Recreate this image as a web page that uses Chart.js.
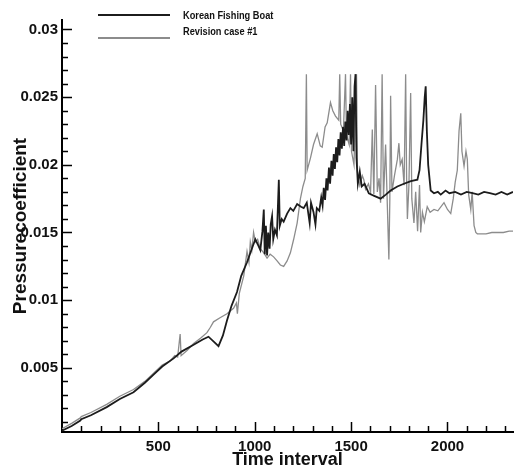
<!DOCTYPE html>
<html>
<head>
<meta charset="utf-8">
<script src="https://cdn.jsdelivr.net/npm/chart.js@4.4.1/dist/chart.umd.min.js"></script>
<style>
  html, body { margin: 0; padding: 0; background: #ffffff; }
  #wrap { width: 517px; height: 471px; position: relative; }
</style>
</head>
<body>
<div id="wrap"><canvas id="c"></canvas></div>
<script>
// ---- data ----
const seriesNames = ["Korean Fishing Boat", "Revision case #1"];

const kfbT = [0,50,95,100,150,232,300,371,430,475,520,579,620,683,730,760,790,812,835,856,880,908,930,960,985,1003,1020,1029,1040,1047,1052,1058,1064,1070,1077,1083,1090,1096,1105,1115,1125,1130,1140,1150,1168,1185,1200,1220,1240,1254,1270,1285,1292,1305,1315,1322,1335,1345,1352,1358,1365,1372,1378,1385,1391,1398,1404,1410,1416,1422,1428,1434,1440,1446,1452,1458,1464,1470,1476,1482,1488,1494,1500,1506,1512,1518,1523,1528,1535,1545,1555,1570,1592,1620,1653,1680,1705,1740,1774,1810,1844,1855,1865,1875,1882,1887,1893,1900,1913,1930,1950,1965,1990,2010,2040,2070,2100,2130,2160,2190,2220,2250,2280,2310,2340];
const kfbV = [0.00035,0.0007,0.0011,0.0012,0.0015,0.0021,0.0027,0.0032,0.0039,0.0045,0.0051,0.0057,0.0062,0.0067,0.0071,0.0073,0.0069,0.0066,0.0074,0.0085,0.0096,0.0106,0.0118,0.0128,0.0138,0.0145,0.0140,0.0137,0.0151,0.0167,0.0134,0.0155,0.0133,0.0150,0.0138,0.0156,0.0162,0.0145,0.0152,0.0148,0.0189,0.0155,0.0160,0.0158,0.0164,0.0168,0.0166,0.0171,0.0169,0.0168,0.0172,0.0157,0.0172,0.0165,0.0156,0.0168,0.0166,0.0176,0.0170,0.0183,0.0174,0.0190,0.0181,0.0198,0.0186,0.0203,0.0192,0.0208,0.0197,0.0213,0.0202,0.0219,0.0207,0.0224,0.0212,0.0228,0.0214,0.0232,0.0218,0.0240,0.0222,0.0245,0.0215,0.0250,0.0210,0.0258,0.0267,0.0205,0.0186,0.0195,0.0184,0.0186,0.0179,0.0177,0.0175,0.0178,0.0181,0.0184,0.0186,0.0188,0.0189,0.0196,0.0215,0.0233,0.0250,0.0258,0.0225,0.0200,0.0181,0.0179,0.0180,0.0178,0.0181,0.0179,0.0180,0.0178,0.0180,0.0179,0.0178,0.0180,0.0179,0.0178,0.0180,0.0178,0.0180];

const revT = [0,50,95,100,150,232,300,371,430,475,520,560,585,600,613,618,650,683,720,752,770,786,820,856,890,905,910,920,943,960,970,977,985,994,1003,1015,1029,1047,1064,1080,1098,1116,1133,1150,1168,1185,1202,1220,1237,1250,1262,1268,1272,1289,1305,1324,1340,1350,1365,1376,1393,1405,1419,1436,1441,1446,1460,1471,1476,1490,1497,1502,1515,1528,1533,1545,1558,1566,1575,1590,1601,1610,1618,1627,1636,1645,1653,1661,1668,1679,1688,1696,1701,1705,1712,1725,1740,1748,1755,1765,1775,1783,1788,1792,1800,1809,1815,1826,1835,1845,1855,1861,1870,1880,1895,1910,1930,1950,1982,2000,2017,2030,2040,2051,2060,2069,2075,2086,2096,2103,2110,2121,2128,2138,2147,2155,2173,2200,2230,2259,2290,2320,2340];
const revV = [0.0005,0.0009,0.0013,0.0014,0.0017,0.0023,0.0029,0.0034,0.0040,0.0046,0.0052,0.0055,0.0059,0.0058,0.0075,0.0059,0.0063,0.0068,0.0072,0.0076,0.0080,0.0084,0.0087,0.0090,0.0094,0.0098,0.0090,0.0105,0.0118,0.0136,0.0128,0.0143,0.0137,0.0150,0.0143,0.0145,0.0138,0.0135,0.0131,0.0134,0.0132,0.0129,0.0126,0.0125,0.0129,0.0135,0.0145,0.0157,0.0175,0.0184,0.0190,0.0267,0.0196,0.0205,0.0215,0.0223,0.0214,0.0213,0.0228,0.0231,0.0246,0.0240,0.0236,0.0233,0.0267,0.0230,0.0225,0.0267,0.0222,0.0215,0.0267,0.0210,0.0200,0.0267,0.0195,0.0185,0.0192,0.0189,0.0182,0.0186,0.0180,0.0226,0.0178,0.0259,0.0180,0.0190,0.0172,0.0267,0.0175,0.0215,0.0170,0.0130,0.0175,0.0251,0.0180,0.0192,0.0204,0.0216,0.0200,0.0204,0.0185,0.0267,0.0190,0.0160,0.0185,0.0253,0.0175,0.0157,0.0180,0.0151,0.0185,0.0150,0.0165,0.0158,0.0169,0.0165,0.0167,0.0166,0.0172,0.0167,0.0164,0.0175,0.0187,0.0196,0.0225,0.0238,0.0210,0.0199,0.0210,0.0204,0.0178,0.0167,0.0180,0.0155,0.0150,0.0149,0.0149,0.0149,0.0150,0.0150,0.0150,0.0151,0.0151];

const xTickValues = [500, 1000, 1500, 2000];
const yTickValues = [0.005, 0.01, 0.015, 0.02, 0.025, 0.03];
const xRange = [0, 2340];
const yRange = [0.00026, 0.0307];

const toPts = (ts, vs) => ts.map((t, i) => ({ x: t, y: vs[i] }));

const isMajor = (v, list) => list.some(m => Math.abs(m - v) < 1e-7);

// inward tick marks, drawn through the library scales
const innerTicks = {
  id: 'innerTicks',
  afterDraw(chart) {
    const { ctx, scales: { x, y }, chartArea } = chart;
    ctx.save();
    ctx.strokeStyle = '#000';
    ctx.lineWidth = 1.5;
    ctx.beginPath();
    for (let t = 100; t < xRange[1]; t += 100) {
      const px = Math.round(x.getPixelForValue(t)) + 0.5;
      const len = (t % 500 === 0) ? 10 : 6;
      ctx.moveTo(px, chartArea.bottom);
      ctx.lineTo(px, chartArea.bottom - len);
    }
    for (let k = 1; k <= 30; k++) {
      const v = k / 1000;
      const py = Math.round(y.getPixelForValue(v)) + 0.5;
      const len = (k % 5 === 0) ? 10 : 6;
      ctx.moveTo(chartArea.left, py);
      ctx.lineTo(chartArea.left + len, py);
    }
    ctx.stroke();
    ctx.restore();
  }
};

// legend drawn at the top like the reference
const topLegend = {
  id: 'topLegend',
  afterDraw(chart) {
    const { ctx } = chart;
    const items = [
      { text: seriesNames[0], color: chart.data.datasets[0].borderColor, ly: 15, ty: 16.5 },
      { text: seriesNames[1], color: chart.data.datasets[1].borderColor, ly: 38, ty: 32.5 }
    ];
    ctx.save();
    items.forEach(it => {
      ctx.strokeStyle = it.color;
      ctx.lineWidth = 2;
      ctx.beginPath();
      ctx.moveTo(98, it.ly);
      ctx.lineTo(170, it.ly);
      ctx.stroke();
      ctx.save();
      ctx.translate(183, it.ty);
      ctx.scale(0.88, 1);
      ctx.fillStyle = '#111';
      ctx.font = 'bold 10.5px "Liberation Sans", Arial, sans-serif';
      ctx.textBaseline = 'middle';
      ctx.textAlign = 'left';
      ctx.fillText(it.text, 0, 0);
      ctx.restore();
    });
    ctx.restore();
  }
};

const tickFont = { family: '"Liberation Sans", Arial, sans-serif', size: 15, weight: 'bold' };
const xTitleFont = { family: '"Liberation Sans", Arial, sans-serif', size: 18, weight: 'bold' };
const yTitleFont = { family: '"Liberation Sans", Arial, sans-serif', size: 19, weight: 'bold' };

new Chart(document.getElementById('c'), {
  type: 'line',
  data: {
    datasets: [
      { label: seriesNames[0], data: toPts(kfbT, kfbV), borderColor: '#1c1c1c', borderWidth: 1.8, pointRadius: 0, tension: 0, fill: false },
      { label: seriesNames[1], data: toPts(revT, revV), borderColor: '#8c8c8c', borderWidth: 1.3, pointRadius: 0, tension: 0, fill: false }
    ]
  },
  options: {
    responsive: true,
    maintainAspectRatio: false,
    animation: false,
    devicePixelRatio: 1,
    layout: { padding: { top: 20, right: 4, left: 0, bottom: 0 } },
    plugins: { legend: { display: false }, tooltip: { enabled: false } },
    scales: {
      x: {
        type: 'linear',
        min: xRange[0], max: xRange[1],
        afterFit(s) { s.height = 39; },
        grid: { display: false, drawTicks: false },
        border: { display: true, color: '#000', width: 2 },
        ticks: {
          stepSize: 100, autoSkip: false, maxRotation: 0, padding: 6, includeBounds: false,
          color: '#111', font: tickFont,
          callback: v => isMajor(v, xTickValues) ? String(v) : ''
        },
        title: { display: true, text: 'Time interval', color: '#111', font: xTitleFont, padding: { top: 0, bottom: 0 } }
      },
      y: {
        type: 'linear',
        min: yRange[0], max: yRange[1],
        afterFit(s) { s.width = 62; },
        grid: { display: false, drawTicks: false },
        border: { display: true, color: '#000', width: 2 },
        ticks: {
          stepSize: 0.001, autoSkip: false, padding: 4, includeBounds: false,
          color: '#111', font: tickFont,
          callback: v => isMajor(v, yTickValues) ? String(Number(v.toFixed(3))) : ''
        },
        title: { display: true, text: 'Pressurecoefficient', color: '#111', font: yTitleFont, padding: { top: 9, bottom: 0 } }
      }
    }
  },
  plugins: [innerTicks, topLegend]
});
</script>
</body>
</html>
